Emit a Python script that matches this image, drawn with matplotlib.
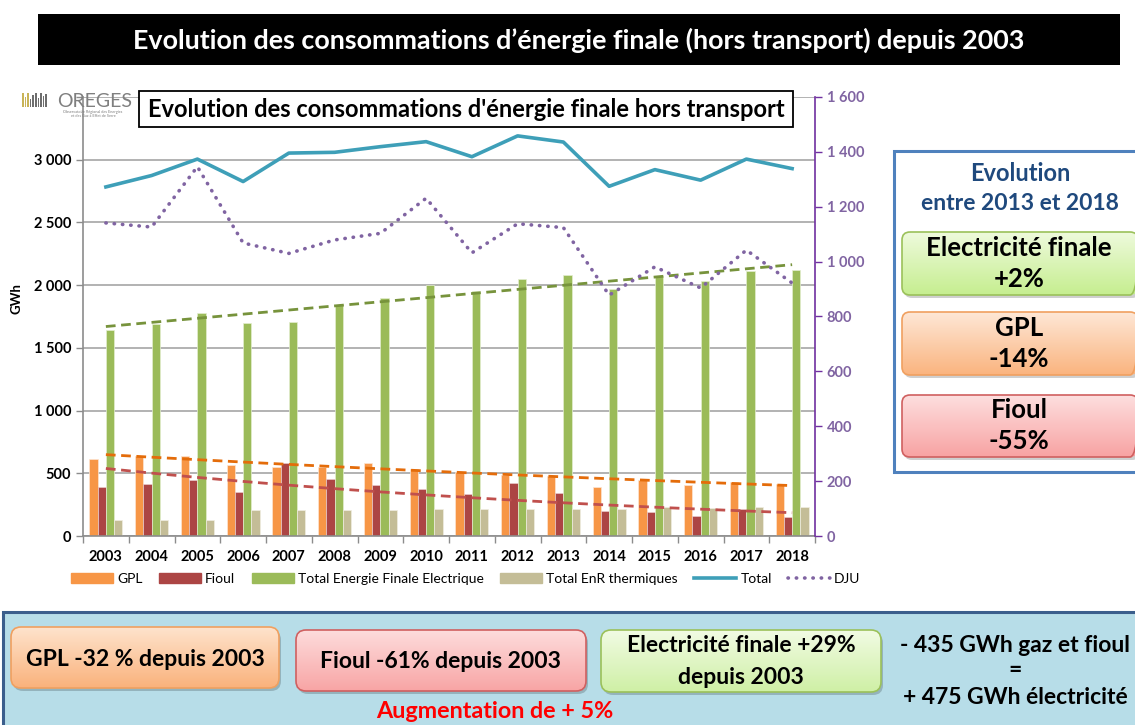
import numpy as np
import matplotlib.pyplot as plt
from matplotlib.patches import FancyBboxPatch, Rectangle, Patch
from matplotlib.lines import Line2D
from matplotlib.colors import to_rgb
from matplotlib.ticker import FuncFormatter

plt.rcParams['font.family'] = ['Lato', 'DejaVu Sans']

# data
years = [str(y) for y in range(2003, 2019)]
gpl = [614, 638, 641, 569, 553, 553, 585, 535, 513, 489, 481, 394, 447, 410, 431, 415]
fioul = [391, 415, 449, 351, 580, 452, 404, 378, 332, 426, 340, 202, 191, 160, 213, 154]
elec = [1644, 1694, 1779, 1697, 1707, 1840, 1896, 2005, 1952, 2051, 2083, 1968, 2075, 2037, 2115, 2123]
enr = [130, 130, 130, 207, 207, 207, 207, 213, 213, 213, 218, 218, 234, 223, 234, 234]
total = [2783, 2874, 3005, 2826, 3053, 3059, 3104, 3144, 3024, 3190, 3141, 2788, 2921, 2837, 3005, 2929]
dju = [1141, 1126, 1346, 1068, 1030, 1079, 1103, 1231, 1032, 1138, 1124, 878, 981, 904, 1042, 922]

c_gpl = '#F79646'
c_fioul = '#AC4544'
c_elec = '#9BBB59'
c_enr = '#C4BD97'
c_total = '#3E9FB8'
c_dju = '#8064A2'

fig = plt.figure(figsize=(11.35, 7.25), dpi=100)
ax = fig.add_axes([83/1135, 1-536/725, (815-83)/1135, (536-97)/725])

x = np.arange(len(years))
w = 0.18
ax.bar(x-0.27, gpl, w, color=c_gpl, edgecolor='#FDE5D2', lw=0.5, zorder=2)
ax.bar(x-0.09, fioul, w, color=c_fioul, edgecolor='#E8CACA', lw=0.5, zorder=2)
ax.bar(x+0.09, elec, w, color=c_elec, edgecolor='#E3EED0', lw=0.5, zorder=2)
ax.bar(x+0.27, enr, w, color=c_enr, edgecolor='#F0EDE2', lw=0.5, zorder=2)

# trendlines (Excel style)
def exp_trend(v):
    k, b = np.polyfit(x, np.log(v), 1)
    return np.exp(b + k*x)

ax.plot(x, np.polyval(np.polyfit(x, elec, 1), x), ls=(0, (3.5, 2)), color='#77933C', lw=2, zorder=3)
ax.plot(x, exp_trend(gpl), ls=(0, (3.5, 2)), color='#E46C0A', lw=2, zorder=3)
ax.plot(x, exp_trend(fioul), ls=(0, (3.5, 2)), color='#C0504D', lw=2, zorder=3)

ax.plot(x, total, color=c_total, lw=2.6, zorder=4)

ax.set_xlim(-0.5, 15.5)
ax.set_ylim(0, 3500)
ax.set_yticks(np.arange(0, 3501, 500))
ax.yaxis.set_major_formatter(FuncFormatter(lambda v, p: '' if v > 3000 else f'{int(v):,}'.replace(',', ' ')))
ax.grid(axis='y', color='#A6A6A6', lw=1.2, zorder=0)
ax.set_axisbelow(True)
ax.set_xticks(x)
ax.set_xticklabels(years, fontweight='bold', fontsize=10.5)
ax.set_xticks(np.arange(-0.5, 16, 1), minor=True)
ax.tick_params(axis='x', which='major', length=0, pad=10)
ax.tick_params(axis='x', which='minor', length=5, color='#8C8C8C', width=1)
ax.tick_params(axis='y', length=5, color='#8C8C8C', width=1, labelsize=10.5)
for t in ax.get_yticklabels():
    t.set_fontweight('bold')
for s in ['top', 'right']:
    ax.spines[s].set_visible(False)
ax.spines['left'].set_color('#8C8C8C')
ax.spines['bottom'].set_color('#8C8C8C')
ax.spines['left'].set_linewidth(1.2)
ax.spines['bottom'].set_linewidth(1.2)
ax.set_ylabel('GWh', fontsize=9.5, fontweight='bold')
ax.yaxis.set_label_coords(-0.083, 0.54)

ax2 = ax.twinx()
ax2.plot(x, dju, color=c_dju, lw=2.6, ls=(0, (0.1, 2.2)), dash_capstyle='round', zorder=4)
ax2.set_ylim(0, 1600)
ax2.set_yticks(np.arange(0, 1601, 200))
ax2.yaxis.set_major_formatter(FuncFormatter(lambda v, p: f'{int(v):,}'.replace(',', ' ')))
ax2.tick_params(axis='y', length=5, color='#7030A0', width=1, labelsize=10.5, labelcolor='#8064A2')
for t in ax2.get_yticklabels():
    t.set_fontweight('bold')
for s in ['top', 'left', 'bottom']:
    ax2.spines[s].set_visible(False)
ax2.spines['right'].set_color('#7030A0')
ax2.spines['right'].set_linewidth(1.2)

handles = [Patch(color=c_gpl), Patch(color=c_fioul), Patch(color=c_elec), Patch(color=c_enr),
           Line2D([], [], color=c_total, lw=2.6),
           Line2D([], [], color=c_dju, lw=2.6, ls=(0, (0.1, 2.2)), dash_capstyle='round')]
labels = ['GPL', 'Fioul', 'Total Energie Finale Electrique', 'Total EnR thermiques', 'Total', 'DJU']
fig.legend(handles, labels, loc='center', bbox_to_anchor=(466/1135, 1-579/725), ncol=6,
           frameon=False, fontsize=10, handlelength=3.0, handletextpad=0.3, columnspacing=1.2)

# overlay in pixel coordinates for the decorations
ov = fig.add_axes([0, 0, 1, 1], zorder=10)
ov.axis('off')

def grad_box(x0, y0, x1, y1, ctop, cbot, edge, r=8):
    sh = FancyBboxPatch((x0+2, y0+3), x1-x0, y1-y0, boxstyle=f'round,pad=0,rounding_size={r}',
                        fc='#00000030', ec='none', zorder=1)
    ov.add_patch(sh)
    p = FancyBboxPatch((x0, y0), x1-x0, y1-y0, boxstyle=f'round,pad=0,rounding_size={r}',
                       fc='none', ec=edge, lw=1.2, zorder=3)
    ov.add_patch(p)
    g = np.linspace(0, 1, 64)[:, None, None]
    img = np.array(to_rgb(ctop))*(1-g) + np.array(to_rgb(cbot))*g
    im = ov.imshow(img, extent=(x0, x1, y1, y0), aspect='auto', zorder=2)
    im.set_clip_path(p)

# top banner
ov.add_patch(Rectangle((38, 14), 1082, 51, fc='black', ec='none'))
ov.text(579, 40, 'Evolution des consommations d\u2019énergie finale (hors transport) depuis 2003',
        color='white', fontsize=19.4, fontweight='bold', ha='center', va='center')

# chart title box
ov.add_patch(Rectangle((139, 91), 654, 36, fc='white', ec='black', lw=1.3, zorder=3))
ov.text(466, 109, "Evolution des consommations d'énergie finale hors transport",
        fontsize=17, fontweight='bold', ha='center', va='center', zorder=4)

# logo
bar_h = [14, 10, 14, 8, 12, 14, 9, 14, 11, 13]
for i, h in enumerate(bar_h):
    ov.add_patch(Rectangle((22 + i*2.6, 107 - h), 1.6, h,
                           fc='#C9B458' if i < 3 else '#6E6E6E', ec='none', zorder=3))
ov.text(57, 101, 'OREGES', fontsize=14, color='#7F7F7F', ha='left', va='center', zorder=3)
ov.text(93, 114, 'Observatoire Régional des Energies\net des Gaz à Effet de Serre', fontsize=2.8,
        color='#7F7F7F', ha='center', va='center', zorder=3, linespacing=1.1)

# right panel
ov.add_patch(Rectangle((894, 151), 250, 321, fc='white', ec='#4F81BD', lw=2.2, zorder=1))
ov.text(1020, 173, 'Evolution', fontsize=17, fontweight='bold', color='#1F497D', ha='center', va='center', zorder=4)
ov.text(1020, 203, 'entre 2013 et 2018', fontsize=16.5, fontweight='bold', color='#1F497D', ha='center', va='center', zorder=4)
grad_box(902, 232, 1138, 295, '#EEFADC', '#C6EE90', '#9BC15A')
grad_box(902, 312, 1138, 375, '#FEE7D6', '#FAB47F', '#F0A060')
grad_box(902, 395, 1138, 457, '#FDDEDE', '#F8A3A3', '#D06060')
for yc, t1, t2 in [(263, 'Electricité finale', '+2%'), (343, 'GPL', '-14%'), (425, 'Fioul', '-55%')]:
    ov.text(1019, yc - 15, t1, fontsize=18.5, fontweight='bold', ha='center', va='center', zorder=4)
    ov.text(1019, yc + 16, t2, fontsize=18.5, fontweight='bold', ha='center', va='center', zorder=4)

# bottom panel
ov.add_patch(Rectangle((3, 612), 1140, 120, fc='#B7DDE8', ec='#3B5E8C', lw=2.2, zorder=1))
grad_box(11, 627, 279, 688, '#FEE3CC', '#FAB27C', '#F0A060', r=10)
grad_box(296, 630, 586, 691, '#FDDCDC', '#F8A5A5', '#D06060', r=10)
grad_box(601, 630, 881, 692, '#F1FBE3', '#CFF0A6', '#9BC15A', r=10)
fs = 16.5
ov.text(145, 659, 'GPL -32 % depuis 2003', fontsize=fs, fontweight='bold', ha='center', va='center', zorder=4)
ov.text(440, 662, 'Fioul -61% depuis 2003', fontsize=fs, fontweight='bold', ha='center', va='center', zorder=4)
ov.text(741, 646, 'Electricité finale +29%', fontsize=fs, fontweight='bold', ha='center', va='center', zorder=4)
ov.text(741, 677, 'depuis 2003', fontsize=fs, fontweight='bold', ha='center', va='center', zorder=4)
ov.text(1015, 645, '- 435 GWh gaz et fioul', fontsize=fs, fontweight='bold', ha='center', va='center', zorder=4)
ov.text(1015, 670, '=', fontsize=fs, fontweight='bold', ha='center', va='center', zorder=4)
ov.text(1015, 697, '+ 475 GWh électricité', fontsize=fs, fontweight='bold', ha='center', va='center', zorder=4)
ov.text(495, 712, 'Augmentation de + 5%', fontsize=16.8, fontweight='bold', color='#FF0000', ha='center', va='center', zorder=4)

ov.set_xlim(0, 1135)
ov.set_ylim(725, 0)

fig.savefig('out.png', dpi=100)
